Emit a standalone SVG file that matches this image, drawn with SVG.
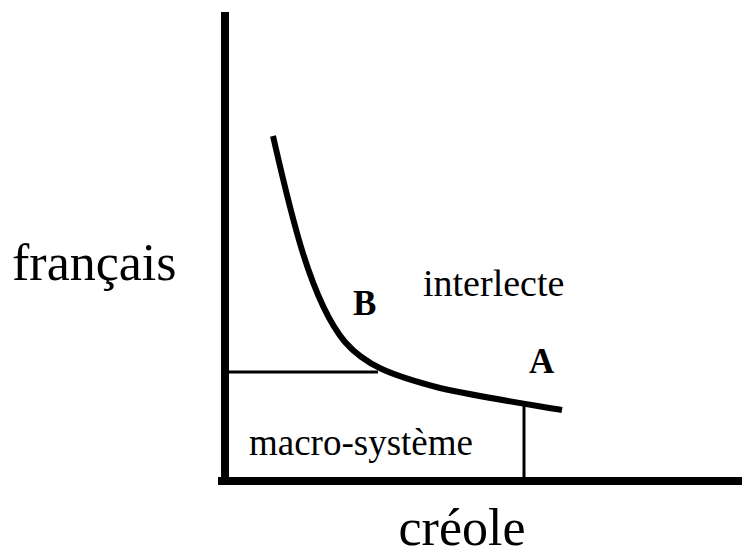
<svg xmlns="http://www.w3.org/2000/svg" width="742" height="555" viewBox="0 0 742 555">
<style>
.t{font-family:"Liberation Serif","Times New Roman",serif;fill:#000}
.ax{stroke:#000;stroke-width:8;fill:none}
.th{stroke:#000;stroke-width:3;fill:none}
</style>
<rect width="742" height="555" fill="#fff"/>
<g id="connectors">
<line class="ax" x1="225" y1="12" x2="225" y2="485"/>
<line class="ax" x1="218" y1="481" x2="742" y2="481"/>
<line class="th" x1="229" y1="372" x2="378" y2="372"/>
<line class="th" x1="524" y1="406" x2="524" y2="478"/>
<path d="M273,136 C290,210 310,300 345,342 C365,365 390,375 440,388 C480,397 520,403 562,410" stroke="#000" stroke-width="6" fill="none"/>
</g>
<g id="labels">
<text class="t" x="12" y="280" font-size="52">français</text>
<text class="t" x="462" y="545" font-size="52" text-anchor="middle">créole</text>
<text class="t" x="423" y="296" font-size="38">interlecte</text>
<text class="t" x="353" y="315" font-size="35" font-weight="bold">B</text>
<text class="t" x="529" y="373" font-size="35" font-weight="bold">A</text>
<text class="t" x="249" y="455" font-size="37">macro-système</text>
</g>
</svg>
